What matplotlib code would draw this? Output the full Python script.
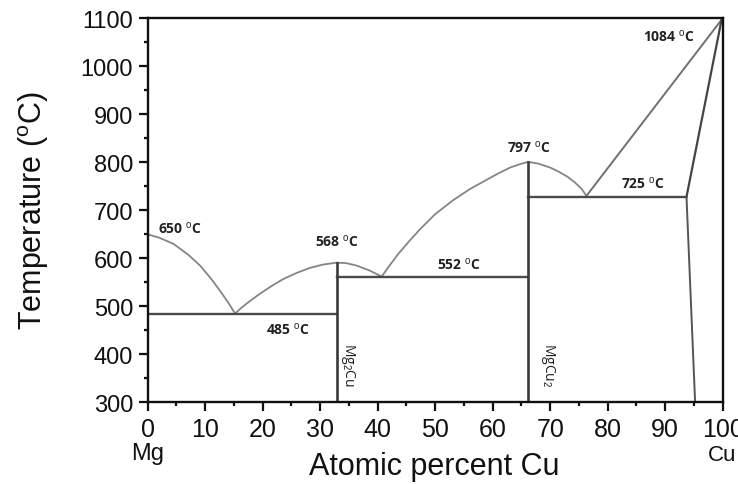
import matplotlib
matplotlib.use('Agg')
import matplotlib.pyplot as plt
from matplotlib.ticker import MultipleLocator

plt.rcParams['font.family'] = ['Liberation Sans', 'DejaVu Sans']
plt.rcParams['mathtext.fontset'] = 'custom'
plt.rcParams['mathtext.rm'] = 'Liberation Sans'
plt.rcParams['mathtext.it'] = 'Liberation Sans:italic'
plt.rcParams['mathtext.bf'] = 'Liberation Sans:bold'

# ---- data (atomic % Cu, temperature in C) ----
liq1_x = [0, 2, 4.5, 7, 9.1, 11, 12.6, 14, 15.2]
liq1_t = [650, 643, 630, 608, 585, 558, 532, 508, 485]
liq2_x = [15.2, 16.5, 18, 19.5, 21.5, 23.6, 26, 28.2, 30.5, 32.9]
liq2_t = [485, 499, 513, 526, 542, 557, 570, 580, 587, 591]
liq3_x = [32.9, 34.5, 36.3, 38.5, 40.7]
liq3_t = [591, 590, 585, 575, 562]
liq4_x = [40.7, 42, 43.5, 45.5, 47.4, 50, 53.1, 56, 59.0, 61, 63.0, 64.7, 66.2]
liq4_t = [562, 584, 608, 636, 661, 692, 721, 744, 764, 777, 789, 796, 801]
liq5_x = [66.2, 68, 70, 71.4, 73, 74.3, 75.5, 76.3]
liq5_t = [801, 797, 789, 781, 770, 758, 744, 730]
liq6_x = [76.3, 99.8]
liq6_t = [730, 1097]
solidus_x = [93.7, 99.8]
solidus_t = [728, 1097]
solvus_x = [93.7, 95.2]
solvus_t = [728, 300]

# invariant lines: (x_start, x_end, temperature)
eutectic_lines = [(0, 32.9, 484), (32.9, 66.2, 562), (66.2, 93.7, 728)]
# compound lines: (x, t_bottom, t_top)
compound_lines = [(32.9, 300, 591), (66.2, 300, 801)]

temp_labels = ['650', '568', '485', '552', '797', '725', '1084']
temp_label_x = [5.6, 32.9, 24.4, 54.1, 66.3, 86.1, 90.6]
temp_label_t = [665, 636, 454, 590, 833, 758, 1064]

phase_labels = ['Mg$_2$Cu', 'MgCu$_2$']
phase_label_x = [34.9, 69.7]
phase_label_t = [380, 380]

x_ticks = list(range(0, 101, 10))
y_ticks = list(range(300, 1101, 100))

fig = plt.figure(figsize=(7.38, 4.85), dpi=100)
ax = fig.add_axes([0.2001, 0.1684, 0.7792, 0.7918])

curve_kw = dict(color='#858585', lw=1.3, solid_capstyle='round',
                solid_joinstyle='round')
for xs, ts in [(liq1_x, liq1_t), (liq2_x, liq2_t), (liq3_x, liq3_t),
               (liq4_x, liq4_t), (liq5_x, liq5_t)]:
    ax.plot(xs, ts, **curve_kw)
ax.plot(liq6_x, liq6_t, color='#707070', lw=1.4)
ax.plot(solidus_x, solidus_t, color='#444444', lw=1.6)
ax.plot(solvus_x, solvus_t, color='#555555', lw=1.4)

for x0, x1, t in eutectic_lines:
    ax.plot([x0, x1], [t, t], color='#4a4a4a', lw=1.7)
for x, t0, t1 in compound_lines:
    ax.plot([x, x], [t0, t1], color='#3a3a3a', lw=1.9)

for lab, x, t in zip(temp_labels, temp_label_x, temp_label_t):
    ax.text(x, t, lab + r' $^{\mathrm{o}}$C', ha='center', va='center',
            fontsize=10, fontweight='bold', color='#222222',
            family=['Open Sans', 'DejaVu Sans'])

for lab, x, t in zip(phase_labels, phase_label_x, phase_label_t):
    ax.text(x, t, lab, ha='center', va='center', rotation=270,
            fontsize=10, color='#222222', family=['Open Sans', 'DejaVu Sans'])

ax.set_xlim(0, 100)
ax.set_ylim(300, 1100)
ax.set_xticks(x_ticks)
ax.set_yticks(y_ticks)
ax.xaxis.set_minor_locator(MultipleLocator(5))
ax.yaxis.set_minor_locator(MultipleLocator(50))
ax.tick_params(axis='both', which='major', direction='out', length=6.5, width=1.6,
               pad=4, colors='#111111')
ax.tick_params(axis='x', which='major', labelsize=18)
ax.tick_params(axis='y', which='major', labelsize=17)
ax.tick_params(axis='both', which='minor', direction='out', length=3, width=1.6,
               colors='#111111')
for s in ax.spines.values():
    s.set_linewidth(1.7)
    s.set_color('#111111')

fig.text(0.045, 0.565, r'Temperature ($^{\mathrm{o}}$C)', rotation=90,
         ha='center', va='center', fontsize=22, color='#111111')
fig.text(0.589, 0.037, 'Atomic percent Cu', ha='center', va='center',
         fontsize=22, color='#111111')
fig.text(148 / 738, 1 - 454 / 485, 'Mg', ha='center', va='center',
         fontsize=17, color='#111111')
fig.text(722 / 738, 1 - 456 / 485, 'Cu', ha='center', va='center',
         fontsize=16, color='#111111')

fig.savefig('out.png', dpi=100)
